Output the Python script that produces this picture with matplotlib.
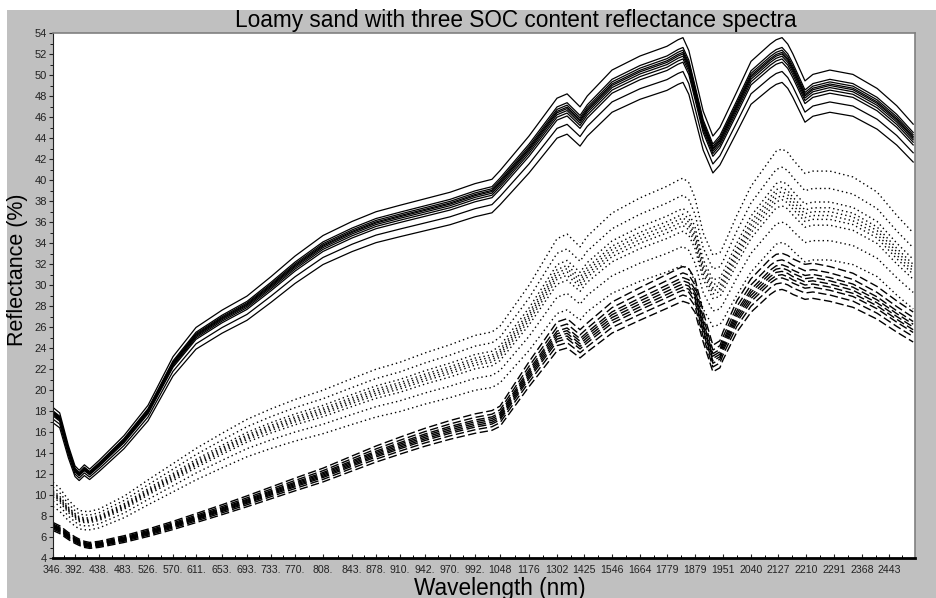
import numpy as np
import matplotlib
matplotlib.use('Agg')
import matplotlib.pyplot as plt
from matplotlib.patches import Rectangle

plt.rcParams['font.family'] = ['Liberation Sans', 'DejaVu Sans']

# x axis: wavelengths printed under the ticks and their slot along the axis
tick_wl = [346, 392, 438, 483, 526, 570, 611, 653, 693, 733, 770, 808, 843, 878,
           910, 942, 970, 992, 1048, 1176, 1302, 1425, 1546, 1664, 1779, 1879,
           1951, 2040, 2127, 2210, 2291, 2368, 2443]
tick_text = ['346.', '392.', '438.', '483.', '526.', '570.', '611.', '653.', '693.',
             '733.', '770.', '808.', '843.', '878.', '910.', '942.', '970.', '992.',
             '1048', '1176', '1302', '1425', '1546', '1664', '1779', '1879', '1951',
             '2040', '2127', '2210', '2291', '2368', '2443']
tick_slot = [0, 22, 46, 71, 95, 120, 143, 169, 194, 218, 242, 270, 299, 323,
             347, 372, 397, 422, 447, 476, 504, 531, 559, 587, 614, 642,
             670, 698, 725, 753, 781, 809, 836]
wl_end, slot_end = 2500, 862

# spectra (reflectance %, read at these wavelengths)
wl = [346, 360, 378, 392, 400, 410, 420, 438, 483, 526, 570, 611, 653, 693, 733,
      770, 808, 843, 878, 910, 942, 970, 992, 1030, 1048, 1176, 1302, 1348, 1407,
      1439, 1546, 1664, 1779, 1818, 1836, 1857, 1879, 1900, 1925, 1943, 1951,
      1995, 2040, 2102, 2121, 2139, 2156, 2171, 2207, 2230, 2279, 2343, 2410,
      2460, 2496]

low_soc = [17.8, 17.3, 14.3, 12.4, 12.0, 12.5, 12.1, 12.9, 15.2, 18.0, 22.5, 25.2,
           26.8, 28.1, 29.9, 31.8, 33.7, 35.0, 35.9, 36.5, 37.1, 37.7, 38.5, 38.9,
           39.7, 42.9, 46.4, 46.8, 45.6, 46.6, 49.0, 50.3, 51.2, 51.8, 52.0, 50.8,
           48.4, 45.2, 42.9, 43.7, 44.3, 47.0, 49.8, 51.4, 51.8, 52.0, 51.4, 50.5,
           48.0, 48.6, 49.0, 48.6, 47.3, 45.7, 44.0]
mid_soc = [10.1, 9.6, 8.6, 8.0, 7.7, 7.6, 7.6, 7.8, 8.9, 10.3, 11.7, 13.0, 14.3,
           15.5, 16.4, 17.2, 18.0, 19.0, 19.8, 20.4, 21.2, 21.9, 22.7, 23.0, 23.5,
           27.0, 31.0, 31.4, 30.3, 31.2, 33.2, 34.5, 35.5, 36.0, 36.2, 35.8, 34.5,
           31.5, 29.6, 29.8, 30.3, 33.0, 35.5, 37.8, 38.5, 38.7, 38.4, 37.8, 36.6,
           36.8, 36.8, 36.3, 35.0, 33.0, 31.5]
high_soc = [7.0, 6.7, 6.1, 5.7, 5.5, 5.3, 5.2, 5.3, 5.8, 6.4, 7.1, 7.8, 8.6, 9.4,
            10.2, 11.0, 11.9, 13.0, 13.9, 14.7, 15.5, 16.2, 16.8, 17.1, 17.5, 21.5,
            25.1, 25.4, 24.4, 25.0, 26.9, 28.2, 29.4, 29.9, 30.1, 29.9, 29.0, 26.0,
            23.0, 23.4, 24.2, 27.0, 29.0, 30.8, 31.2, 31.3, 31.1, 30.8, 30.3, 30.4,
            30.1, 29.5, 28.3, 27.0, 26.0]

# relative level of each replicate spectrum within its group
low_levels = [1.03, 1.012, 1.007, 1.003, 1.0, 0.996, 0.991, 0.985, 0.968, 0.948]
mid_levels = [1.11, 1.065, 1.03, 1.015, 1.005, 0.995, 0.985, 0.97, 0.93, 0.88]
high_levels = [1.055, 1.035, 1.02, 1.01, 1.0, 0.99, 0.98, 0.965, 0.945]

knot_wl = np.array(tick_wl + [wl_end], float)
knot_pos = np.array(tick_slot + [slot_end], float)


def fwd(w):
    w = np.asarray(w, float)
    p = np.interp(w, knot_wl, knot_pos)
    p = np.where(w < knot_wl[0], knot_pos[0] + (w - knot_wl[0]) * 0.5, p)
    p = np.where(w > knot_wl[-1], knot_pos[-1] + (w - knot_wl[-1]) * 0.5, p)
    return p


def inv(p):
    p = np.asarray(p, float)
    w = np.interp(p, knot_pos, knot_wl)
    w = np.where(p < knot_pos[0], knot_wl[0] + (p - knot_pos[0]) * 2.0, w)
    w = np.where(p > knot_pos[-1], knot_wl[-1] + (p - knot_pos[-1]) * 2.0, w)
    return w


fig = plt.figure(figsize=(9.36, 5.98), dpi=100, facecolor='white')
fig.patches.append(Rectangle((7 / 936, 0), 1, 1 - 10 / 598, transform=fig.transFigure,
                             facecolor='#c0c0c0', edgecolor='none', zorder=-5))
ax = fig.add_axes([53 / 936, 40 / 598, 862 / 936, 525 / 598])
ax.set_facecolor('white')
ax.set_xscale('function', functions=(fwd, inv))

for f in low_levels:
    ax.plot(wl, np.array(low_soc) * f, color='black', lw=0.9, ls='-')
for f in mid_levels:
    ax.plot(wl, np.array(mid_soc) * f, color='black', lw=1.0, ls=(0, (1, 2.2)))
for f in high_levels:
    ax.plot(wl, np.array(high_soc) * f, color='black', lw=1.0, ls=(0, (6, 2.5)))

ax.set_xlim(346, wl_end)
ax.set_ylim(4, 54)
ax.set_xticks(tick_wl, tick_text)
mid_slots = (knot_pos[:-1] + knot_pos[1:]) / 2
ax.set_xticks(inv(mid_slots), minor=True)
ax.set_yticks(range(4, 55, 2))
ax.set_yticks(range(5, 54, 2), minor=True)
ax.tick_params(axis='both', colors='#222222')
ax.tick_params(axis='x', which='major', labelsize=7.6, length=3, width=0.8,
               direction='in', pad=5)
ax.tick_params(axis='x', which='minor', length=2.5, width=0.7, direction='in')
ax.tick_params(axis='y', which='major', labelsize=8, length=3, width=0.8,
               direction='out', pad=1.5)
ax.tick_params(axis='y', which='minor', length=2, width=0.6, direction='out')

ax.spines['left'].set_color('#222222')
ax.spines['bottom'].set_color('black')
ax.spines['bottom'].set_linewidth(2.0)
for s in ['top', 'right']:
    ax.spines[s].set_color('#808080')
    ax.spines[s].set_linewidth(1.2)

ax.set_title('Loamy sand with three SOC content reflectance spectra', fontsize=16.3,
             x=(516 - 53) / 862, pad=4)
ax.set_xlabel('Wavelength (nm)', fontsize=16.3)
ax.xaxis.set_label_coords((500 - 53) / 862, -(588 - 558) / 525)
ax.xaxis.label.set_va('center')
ax.set_ylabel('Reflectance (%)', fontsize=15.5)
ax.yaxis.set_label_coords(-(53 - 18) / 862, (558 - 270) / 525)
ax.yaxis.label.set_va('center')

plt.savefig('out.png', dpi=100, facecolor=fig.get_facecolor())
